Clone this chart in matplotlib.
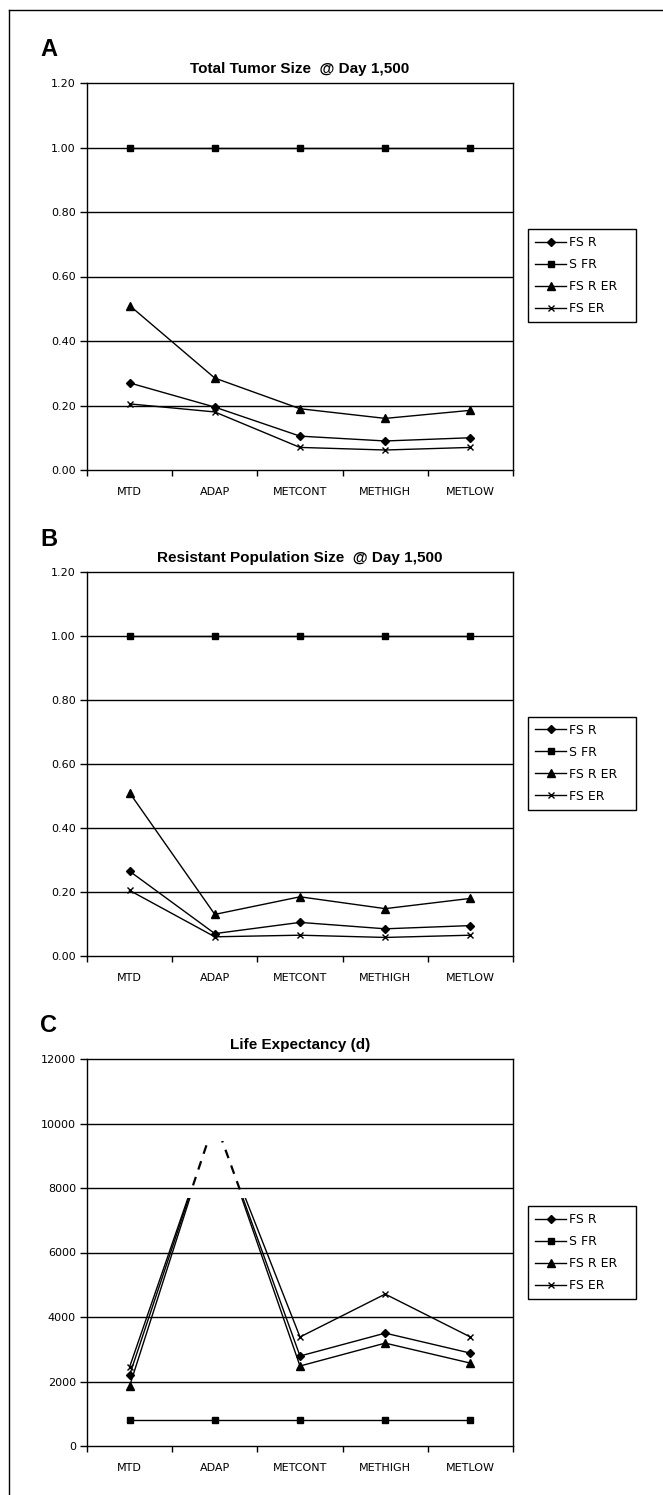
import matplotlib
matplotlib.use("Agg")
import matplotlib.pyplot as plt
from matplotlib.lines import Line2D
from matplotlib.patches import Rectangle
from matplotlib.transforms import blended_transform_factory
from matplotlib.ticker import FormatStrFormatter, FixedLocator

categories = ['MTD', 'ADAP', 'METCONT', 'METHIGH', 'METLOW']
series_names = ['FS R', 'S FR', 'FS R ER', 'FS ER']

# A: total tumor size @ day 1,500
tumor_fs_r = [0.27, 0.195, 0.105, 0.09, 0.10]
tumor_s_fr = [1.0, 1.0, 1.0, 1.0, 1.0]
tumor_fs_r_er = [0.51, 0.285, 0.19, 0.16, 0.185]
tumor_fs_er = [0.205, 0.18, 0.07, 0.062, 0.07]

# B: resistant population size @ day 1,500
resist_fs_r = [0.265, 0.07, 0.105, 0.085, 0.095]
resist_s_fr = [1.0, 1.0, 1.0, 1.0, 1.0]
resist_fs_r_er = [0.51, 0.13, 0.185, 0.148, 0.18]
resist_fs_er = [0.205, 0.06, 0.065, 0.058, 0.065]

# C: life expectancy (d)
life_fs_r = [2200, 10100, 2790, 3500, 2880]
life_s_fr = [820, 820, 820, 820, 820]
life_fs_r_er = [1860, 10100, 2480, 3190, 2570]
life_fs_er = [2450, 10100, 3380, 4710, 3380]

markers = ['D', 's', '^', 'x']
msizes = [4.5, 5, 6, 5]

W, H = 663, 1495
fig = plt.figure(figsize=(W / 100, H / 100), dpi=100)

def fx(px):
    return px / W

def fy(px):
    return 1 - px / H

def setup_axes(top, bottom, ymax, ystep, fmt, title, letter):
    ax = fig.add_axes([fx(87), fy(bottom), fx(513) - fx(87), fy(top) - fy(bottom)])
    ax.set_xlim(-0.5, len(categories) - 0.5)
    ax.set_ylim(0, ymax)
    ticks = [i * ystep for i in range(int(round(ymax / ystep)) + 1)]
    ax.set_yticks(ticks)
    ax.yaxis.set_major_formatter(FormatStrFormatter(fmt))
    ax.set_xticks(range(len(categories)))
    ax.set_xticklabels(categories)
    ax.xaxis.set_minor_locator(FixedLocator([i - 0.5 for i in range(len(categories) + 1)]))
    ax.tick_params(axis='x', which='major', length=0, pad=12, labelsize=8)
    ax.tick_params(axis='x', which='minor', length=4, width=1, direction='out')
    ax.tick_params(axis='y', length=5, width=1, direction='out', labelsize=8, pad=3)
    for sp in ax.spines.values():
        sp.set_linewidth(1)
        sp.set_color('black')
    for t in ticks[1:-1]:
        ax.axhline(t, color='black', lw=1, zorder=1)
    ax.set_title(title, fontsize=11, fontweight='bold', family='Liberation Sans', pad=7)
    fig.text(fx(40), fy(top - 33), letter, fontsize=17, fontweight='bold',
             family='Liberation Sans', va='center', ha='left')
    return ax

def add_legend(ax, leg_top):
    ax.legend(loc='upper left',
              bbox_to_anchor=(fx(528), fy(leg_top + 94), fx(636) - fx(528), 94 / H),
              bbox_transform=fig.transFigure, mode='expand', fancybox=False,
              edgecolor='black', framealpha=1, fontsize=9, handlelength=2.5,
              handletextpad=0.2, labelspacing=0.72, borderpad=0.55, borderaxespad=0)

panels = [
    (83, 470, [tumor_fs_r, tumor_s_fr, tumor_fs_r_er, tumor_fs_er],
     'Total Tumor Size  @ Day 1,500', 'A', 229),
    (572, 956, [resist_fs_r, resist_s_fr, resist_fs_r_er, resist_fs_er],
     'Resistant Population Size  @ Day 1,500', 'B', 717),
]

x = list(range(len(categories)))
for top, bottom, data, title, letter, leg_top in panels:
    ax = setup_axes(top, bottom, 1.2, 0.2, '%.2f', title, letter)
    for vals, name, m, ms in zip(data, series_names, markers, msizes):
        ax.plot(x, vals, color='black', lw=1, marker=m, ms=ms, mew=1,
                label=name, zorder=3)
    add_legend(ax, leg_top)

# C: life expectancy, the ADAP peak is broken into dashes
ax = setup_axes(1059, 1446, 12000, 2000, '%d', 'Life Expectancy (d)', 'C')
trans = blended_transform_factory(ax.transAxes, ax.transData)
life = [life_fs_r, life_s_fr, life_fs_r_er, life_fs_er]
for vals, name, m, ms in zip(life, series_names, markers, msizes):
    ln, = ax.plot(x, vals, color='black', lw=1, marker=m, ms=ms, mew=1,
                  label=name, zorder=3)
    ln.set_clip_path(Rectangle((0, 0), 1, 7700, transform=trans))
    if name == 'FS R':
        dl, = ax.plot(x, vals, color='black', lw=1.6, ls=(0, (4, 3.5)), zorder=3)
        dl.set_clip_path(Rectangle((0, 7950), 1, 1500, transform=trans))
add_legend(ax, 1206)

# outer frame (left and top edges)
fig.add_artist(Line2D([fx(9), fx(9)], [0, fy(10)], transform=fig.transFigure,
                      color='black', lw=1))
fig.add_artist(Line2D([fx(9), 1], [fy(10), fy(10)], transform=fig.transFigure,
                      color='black', lw=1))

fig.savefig('out.png', dpi=100, facecolor='white')
